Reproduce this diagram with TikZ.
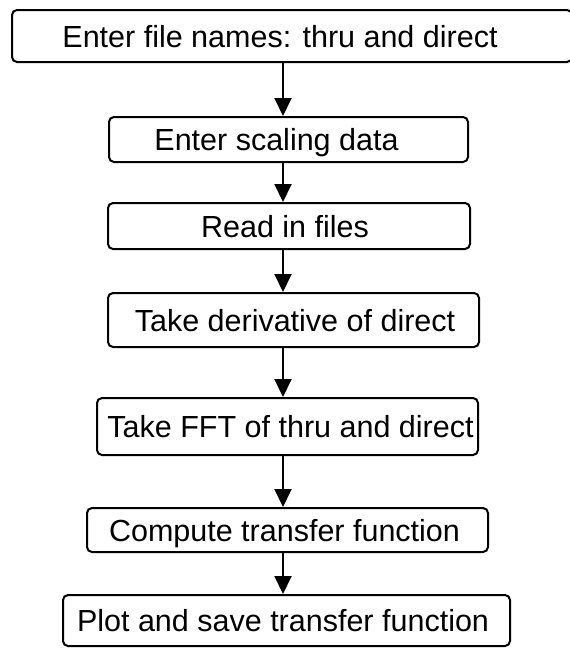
\documentclass[tikz,border=0pt]{standalone}
\usepackage{fontspec}
\setmainfont{Liberation Sans}
\usetikzlibrary{arrows.meta}
% shift a label horizontally inside its box by half of #1
\newcommand\offsettext[2]{\makebox[0pt]{\hspace*{#1}#2}}
\tikzset{
  stepbox/.style={draw, line width=2pt, rounded corners=5pt, inner sep=0pt,
    text height=22pt, text depth=0pt,
    font=\fontsize{30.5}{36}\selectfont},
  flow/.style={line width=2pt, -{Triangle[length=18pt,width=17pt]}},
}
\begin{document}
\begin{tikzpicture}[x=1pt, y=-1pt]
  \useasboundingbox (0,0) rectangle (570,648);
  \fill[white] (0,0) rectangle (570,648);

  \node[stepbox, minimum width=560pt, minimum height=52pt] (b1) at (292,36)
    {\offsettext{-24pt}{Enter file names: thru and direct}};
  \node[stepbox, minimum width=359pt, minimum height=45pt] (b2) at (288.5,139.5)
    {\offsettext{-24pt}{Enter scaling data}};
  \node[stepbox, minimum width=362pt, minimum height=46pt] (b3) at (289,226)
    {\offsettext{-8pt}{Read in files}};
  \node[stepbox, minimum width=371pt, minimum height=54pt] (b4) at (293.5,320)
    {\offsettext{3pt}{Take derivative of direct}};
  \node[stepbox, minimum width=381pt, minimum height=57pt] (b5) at (287.5,426.5)
    {\offsettext{6pt}{Take FFT of thru and direct}};
  \node[stepbox, minimum width=401pt, minimum height=44pt] (b6) at (287.5,530)
    {\offsettext{-6pt}{Compute transfer function}};
  \node[stepbox, minimum width=447pt, minimum height=51pt] (b7) at (286.5,620.5)
    {\offsettext{-7pt}{Plot and save transfer function}};

  % all connectors run down one vertical line
  \coordinate (axis) at (283,0);
  \draw[flow] (b1.south -| axis) -- (b2.north -| axis);
  \draw[flow] (b2.south -| axis) -- (b3.north -| axis);
  \draw[flow] (b3.south -| axis) -- (b4.north -| axis);
  \draw[flow] (b4.south -| axis) -- (b5.north -| axis);
  \draw[flow] (b5.south -| axis) -- (b6.north -| axis);
  \draw[flow] (b6.south -| axis) -- (b7.north -| axis);
\end{tikzpicture}
\end{document}
